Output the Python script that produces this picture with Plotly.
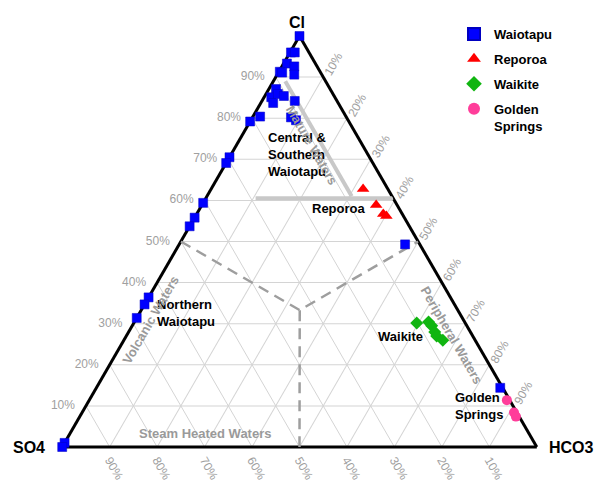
import plotly.graph_objects as go

W, H = 597, 481

# Tick positions and labels shared by the three ternary axes
tick_vals = [10, 20, 30, 40, 50, 60, 70, 80, 90]
tick_text = [f"{t}%" for t in tick_vals]

# Waiotapu samples (percent Cl, SO4, HCO3)
waiotapu_cl = [100.0, 96.0, 96.0, 93.3, 92.6, 91.3, 91.1, 90.6, 87.1, 85.1, 85.9, 85.4,
               83.7, 84.2, 80.4, 79.2, 80.2, 79.5, 70.5, 69.1, 59.4, 55.8, 53.7, 36.4,
               34.7, 31.4, 1.0, 0.0, 49.3, 14.4]
waiotapu_so4 = [0.0, 3.8, 3.0, 6.0, 4.8, 8.5, 8.1, 5.8, 11.4, 13.4, 11.6, 10.6,
                13.7, 8.9, 18.1, 20.8, 11.7, 11.0, 29.5, 30.9, 40.6, 44.2, 46.3, 63.6,
                65.3, 68.6, 99.0, 100.0, 3.1, 0.5]
waiotapu_hco3 = [0.0, 0.2, 1.0, 0.7, 2.6, 0.2, 0.8, 3.6, 1.5, 1.5, 2.5, 4.0,
                 2.6, 6.9, 1.5, 0.0, 8.1, 9.5, 0.0, 0.0, 0.0, 0.0, 0.0, 0.0,
                 0.0, 0.0, 0.0, 0.0, 47.6, 85.1]

# Reporoa samples
reporoa_cl = [62.8, 58.9, 56.7, 56.2]
reporoa_so4 = [5.2, 4.4, 4.0, 3.6]
reporoa_hco3 = [32.0, 36.7, 39.3, 40.2]

# Waikite samples
waikite_cl = [30.2, 30.4, 29.5, 28.0, 27.0, 26.0]
waikite_so4 = [10.2, 7.6, 7.4, 7.5, 7.6, 6.8]
waikite_hco3 = [59.6, 62.0, 63.1, 64.5, 65.4, 67.2]

# Golden Springs samples
golden_cl = [11.4, 8.4, 7.4]
golden_so4 = [0.6, 0.6, 0.7]
golden_hco3 = [88.0, 91.0, 91.9]

# Boundaries between water types: edge midpoints joined at the centroid
bound_cl = [50.0, 33.3, 50.0, None, 33.3, 0.0]
bound_so4 = [50.0, 33.3, 0.0, None, 33.3, 50.0]
bound_hco3 = [0.0, 33.4, 50.0, None, 33.4, 50.0]

# Mature waters band
mature_cl = [89.0, 61.0, None, 60.5, 60.5]
mature_so4 = [8.5, 8.5, None, 29.0, 0.0]
mature_hco3 = [2.5, 30.5, None, 10.5, 39.5]

GREY_TICK = "#a0a0a0"
FONT = "Liberation Sans, Arial"

fig = go.Figure()

fig.add_trace(go.Scatterternary(
    a=mature_cl, b=mature_so4, c=mature_hco3, mode="lines",
    line=dict(color="#c8c8c8", width=4), showlegend=False, hoverinfo="skip"))

fig.add_trace(go.Scatterternary(
    a=bound_cl, b=bound_so4, c=bound_hco3, mode="lines",
    line=dict(color="#9e9e9e", width=2.5, dash="11px,7px"),
    showlegend=False, hoverinfo="skip"))

# Cl tick labels, set horizontally just outside the left edge
fig.add_trace(go.Scatterternary(
    a=tick_vals, b=[100 - t for t in tick_vals], c=[0] * len(tick_vals),
    mode="markers+text", text=tick_text, textposition="middle left",
    marker=dict(size=16, color="rgba(0,0,0,0)"),
    textfont=dict(family=FONT, size=12, color=GREY_TICK),
    showlegend=False, hoverinfo="skip", cliponaxis=False))

fig.add_trace(go.Scatterternary(
    a=waiotapu_cl, b=waiotapu_so4, c=waiotapu_hco3, mode="markers",
    name="Waiotapu", legendgroup="g1", cliponaxis=False,
    marker=dict(symbol="square", size=9, color="#0000ff",
                line=dict(color="#0000c0", width=0.5))))

fig.add_trace(go.Scatterternary(
    a=reporoa_cl, b=reporoa_so4, c=reporoa_hco3, mode="markers",
    name="Reporoa", legendgroup="g2", cliponaxis=False,
    marker=dict(symbol="triangle-up", size=11, color="#ff0000")))

fig.add_trace(go.Scatterternary(
    a=waikite_cl, b=waikite_so4, c=waikite_hco3, mode="markers",
    name="Waikite", legendgroup="g3", cliponaxis=False,
    marker=dict(symbol="diamond", size=10, color="#11b511")))

fig.add_trace(go.Scatterternary(
    a=golden_cl, b=golden_so4, c=golden_hco3, mode="markers",
    name="Golden<br>Springs", legendgroup="g4", cliponaxis=False,
    marker=dict(symbol="circle", size=10, color="#ff3d9a")))

axis_common = dict(
    tickmode="array", tickvals=tick_vals, ticktext=tick_text,
    ticks="", showline=True, linecolor="black", linewidth=3,
    showgrid=True, gridcolor="#d4d4d4", gridwidth=1, layer="below traces",
    tickfont=dict(family=FONT, size=12, color=GREY_TICK),
    title=dict(text=""),
)

left_px, right_px = 62, 537
base_px, apex_px = 447, 36

fig.update_layout(
    width=W, height=H,
    margin=dict(l=0, r=0, t=0, b=0),
    paper_bgcolor="white",
    font=dict(family=FONT, color="black"),
    ternary=dict(
        sum=100,
        bgcolor="white",
        domain=dict(x=[left_px / W, right_px / W],
                    y=[1 - base_px / H, 1 - apex_px / H]),
        aaxis=dict(**axis_common, showticklabels=False),
        baxis=dict(**axis_common, tickangle=60),
        caxis=dict(**axis_common, tickangle=-60),
    ),
    legend=dict(
        x=454 / W, y=1 - 19 / H, xanchor="left", yanchor="top",
        bgcolor="rgba(0,0,0,0)", tracegroupgap=5, valign="top",
        itemsizing="constant",
        font=dict(family=FONT, size=13, color="black", weight="bold"),
    ),
)


def px_note(text, x, y, size=13, color="black", angle=0, xanchor="center",
            align="center"):
    fig.add_annotation(
        text=text, x=x / W, y=1 - y / H, xref="paper", yref="paper",
        showarrow=False, textangle=angle, xanchor=xanchor, yanchor="middle",
        align=align,
        font=dict(family=FONT, size=size, color=color, weight="bold"))


# Vertex labels
px_note("Cl", 297, 22, size=16)
px_note("SO4", 29, 447, size=16)
px_note("HCO3", 571, 447, size=16)

# Group labels
px_note("Central &<br>Southern<br>Waiotapu", 266, 154, xanchor="left", align="left")
px_note("Reporoa", 339, 208)
px_note("Northern<br>Waiotapu", 155, 313, xanchor="left", align="left")
px_note("Waikite", 400, 336)
px_note("Golden<br>Springs", 453, 406, xanchor="left", align="left")

# Water type labels
grey = "#9a9a9a"
px_note("Mature Waters", 311, 145, color=grey, angle=60)
px_note("Volcanic Waters", 150, 320, color=grey, angle=-60)
px_note("Peripheral Waters", 452, 335, color=grey, angle=60)
px_note("Steam Heated Waters", 205, 433, color=grey)

fig.write_html("out.html")
